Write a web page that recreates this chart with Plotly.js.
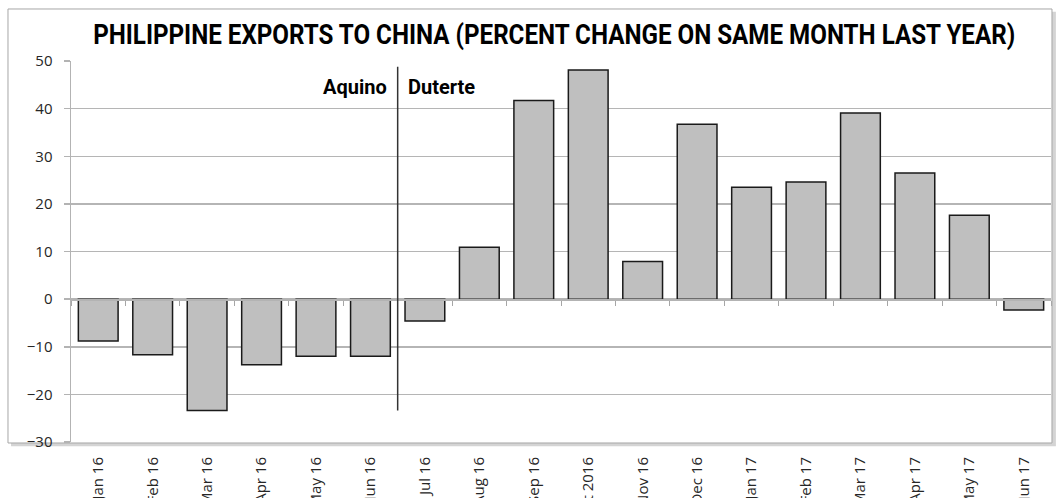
<!DOCTYPE html>
<html><head><meta charset="utf-8">
<script src="https://cdn.plot.ly/plotly-3.0.1.min.js"></script>
<style>html,body{margin:0;padding:0;background:#fff;}#chart{width:1059px;height:498px;}</style>
</head><body><div id="chart"></div>
<script>
const months = ["Jan 16","Feb 16","Mar 16","Apr 16","May 16","Jun 16","Jul 16","Aug 16","Sep 16","Oct 2016","Nov 16","Dec 16","Jan 17","Feb 17","Mar 17","Apr 17","May 17","Jun 17"];
const pctChange = [-8.8,-11.7,-23.4,-13.8,-12.0,-12.0,-4.6,10.9,41.7,48.1,7.9,36.7,23.5,24.6,39.1,26.5,17.6,-2.3];
const yTicks = [-30,-20,-10,0,10,20,30,40,50];
const boundaries = months.map((m,i)=>i-0.5).concat([months.length-0.5]);
const dividerAt = 5.5, dividerTop = 48.8, dividerBottom = -23.4;

const trace = {
  type:'bar', x: months.map((m,i)=>i), y: pctChange,
  marker:{color:'#bfbfbf', line:{color:'#1a1a1a', width:1.5}},
  width:0.73, hoverinfo:'none', xaxis:'x', yaxis:'y'
};
const axisFont = {family:'"Open Sans", sans-serif', size:15, color:'#262626'};
const layout = {
  width:1059, height:498,
  margin:{l:71, r:8, t:61, b:56},
  paper_bgcolor:'#ffffff', plot_bgcolor:'rgba(0,0,0,0)',
  showlegend:false,
  title:{text:'PHILIPPINE EXPORTS TO CHINA (PERCENT CHANGE ON SAME MONTH LAST YEAR)',
    font:{family:'Roboto, sans-serif', size:28, weight:700, color:'#000'},
    xref:'paper', x:0.493, xanchor:'center', yref:'container', y:0.932, yanchor:'middle'},
  xaxis:{type:'linear', range:[-0.5,17.5], tickmode:'array', tickvals:months.map((m,i)=>i), ticktext:months,
    tickangle:-90, tickfont:axisFont, ticks:'', showgrid:false, zeroline:false, showline:false, ticklabelstandoff:11, fixedrange:true},
  xaxis2:{type:'linear', range:[-0.5,17.5], overlaying:'x', anchor:'free', position:0.375, side:'bottom',
    tickmode:'array', tickvals:boundaries, showticklabels:false, ticks:'outside', ticklen:5, tickwidth:1, tickcolor:'#a6a6a6',
    showline:true, linecolor:'#b3b3b3', linewidth:1.5, showgrid:false, zeroline:false},
  yaxis:{range:[-30,50], tickmode:'array', tickvals:yTicks, tickfont:axisFont,
    showgrid:true, gridcolor:'#b5b5b5', gridwidth:1.5, zeroline:false,
    showline:true, linecolor:'#b3b3b3', linewidth:1.5, ticks:'outside', ticklen:6, tickcolor:'#b3b3b3', tickwidth:1.5, ticklabelstandoff:8},
  shapes:[
    {type:'rect', xref:'paper', yref:'paper', x0:-0.0612, x1:1.005, y0:1.129, y1:-0.011, fillcolor:'#d4d4d4', line:{width:0}, layer:'below'},
    {type:'rect', xref:'paper', yref:'paper', x0:-0.0643, x1:1.001, y0:1.1365, y1:-0.0026, fillcolor:'#ffffff', line:{color:'#a6a6a6', width:1}, layer:'below'},
    {type:'line', xref:'x', yref:'y', x0:dividerAt, x1:dividerAt, y0:dividerBottom, y1:dividerTop, line:{color:'#333333', width:1.5}}
  ],
  annotations:[
    {text:'Aquino', xref:'x', yref:'y', x:dividerAt, y:44.5, xanchor:'right', yanchor:'middle', xshift:-9, showarrow:false,
      font:{family:'Roboto, sans-serif', size:20, weight:700, color:'#000'}},
    {text:'Duterte', xref:'x', yref:'y', x:dividerAt, y:44.5, xanchor:'left', yanchor:'middle', xshift:8, showarrow:false,
      font:{family:'Roboto, sans-serif', size:20, weight:700, color:'#000'}}
  ]
};
Plotly.newPlot('chart',[trace, {type:'scatter', x:[], y:[], xaxis:'x2', yaxis:'y', hoverinfo:'none'}],layout,{displayModeBar:false, staticPlot:true}).then(function(){
  const t = document.querySelector('#chart .gtitle');
  if (t) { t.setAttribute('textLength', '922'); t.setAttribute('lengthAdjust', 'spacingAndGlyphs'); }
});
</script></body></html>
